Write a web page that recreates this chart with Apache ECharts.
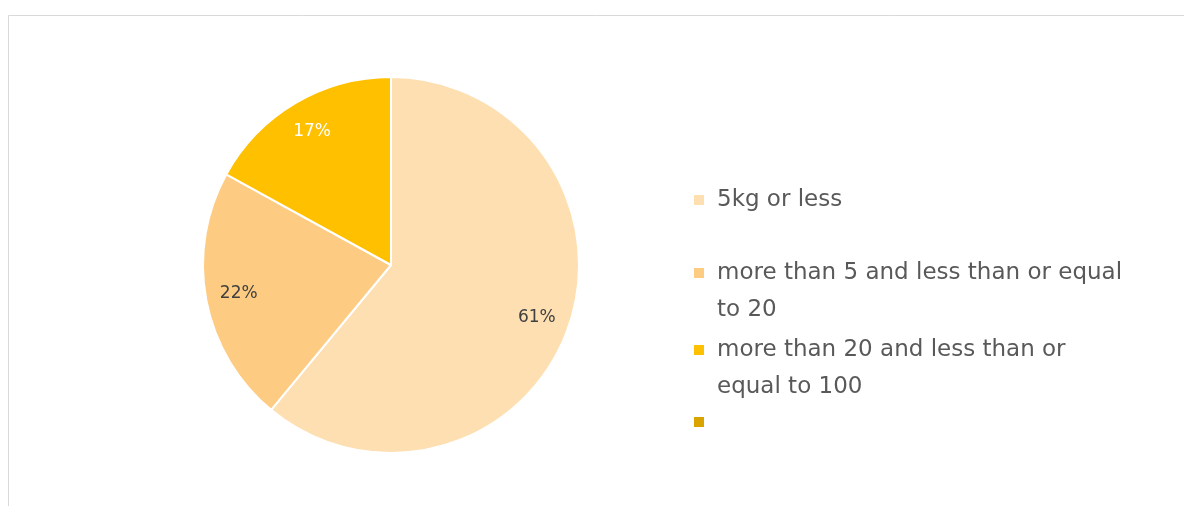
<!DOCTYPE html>
<html>
<head>
<meta charset="utf-8">
<script src="https://cdn.jsdelivr.net/npm/echarts@6/dist/echarts.min.js"></script>
<style>
  html, body { margin: 0; padding: 0; background: #ffffff; }
  #chart { width: 1184px; height: 506px; }
</style>
</head>
<body>
<div id="chart"></div>
<script>
// Shipment weight bands and their share of parcels (%)
const categories = [
  '5kg or less',
  'more than 5 and less than or equal to 20',
  'more than 20 and less than or equal to 100',
  ' '
];
const shares = [61, 22, 17, 0];
const sliceColors = ['#FDDFB1', '#FDCC82', '#FFC000', '#D9A300'];
const labelColors = ['#404040', '#404040', '#ffffff', '#404040'];
// Legend text broken into display lines
const legendLines = [
  ['5kg or less'],
  ['more than 5 and less than or equal', 'to 20'],
  ['more than 20 and less than or', 'equal to 100'],
  [' ']
];

const FONT = '"DejaVu Sans", "Open Sans", sans-serif';
const LINE_H = 37;
const ICON = 10;

// Vertical centre of each legend entry's icon (aligned with its first text line)
const legendIconY = [200, 273, 350, 422];

// One legend per entry so that wrapped entries keep the icon on the first line:
// a blank leading line puts the first text line at the vertical middle of the block.
const legends = categories.map((name, i) => {
  const lines = legendLines[i];
  const extra = lines.length - 1;
  const shown = extra ? [''].concat(lines) : lines;
  const boxH = LINE_H * shown.length;
  return {
    orient: 'vertical',
    left: 694,
    top: legendIconY[i] - boxH / 2,
    padding: 0,
    itemWidth: ICON,
    itemHeight: ICON,
    icon: 'rect',
    selectedMode: false,
    data: [name],
    itemStyle: { borderWidth: 0 },
    formatter: () => shown.join('\n'),
    textStyle: {
      fontFamily: FONT,
      fontSize: 23,
      color: '#595959',
      lineHeight: LINE_H,
      padding: [0, 0, 0, 8]
    }
  };
});

const chart = echarts.init(document.getElementById('chart'), null, { renderer: 'canvas' });

chart.setOption({
  backgroundColor: '#ffffff',
  animation: false,
  graphic: [{
    type: 'rect',
    silent: true,
    shape: { x: 8.5, y: 15.5, width: 2000, height: 2000 },
    style: { fill: 'none', stroke: '#d9d9d9', lineWidth: 1 }
  }],
  legend: legends,
  series: [
    {
      type: 'pie',
      center: [391, 265],
      radius: [0, 188],
      startAngle: 90,
      clockwise: true,
      silent: true,
      label: { show: false },
      labelLine: { show: false },
      itemStyle: { borderColor: '#ffffff', borderWidth: 2 },
      data: categories.map((name, i) => ({
        name: name,
        value: shares[i],
        itemStyle: { color: sliceColors[i] }
      }))
    },
    {
      // Ring carrying only the percentage labels, placed out toward the rim
      type: 'pie',
      center: [391, 265],
      radius: [116, 188],
      startAngle: 90,
      clockwise: true,
      silent: true,
      percentPrecision: 0,
      itemStyle: { color: 'transparent', borderWidth: 0 },
      labelLine: { show: false },
      label: {
        show: true,
        position: 'inside',
        formatter: '{d}%',
        fontFamily: FONT,
        fontSize: 17
      },
      data: categories.slice(0, 3).map((name, i) => ({
        name: name,
        value: shares[i],
        label: { color: labelColors[i] }
      }))
    }
  ]
});
</script>
</body>
</html>
